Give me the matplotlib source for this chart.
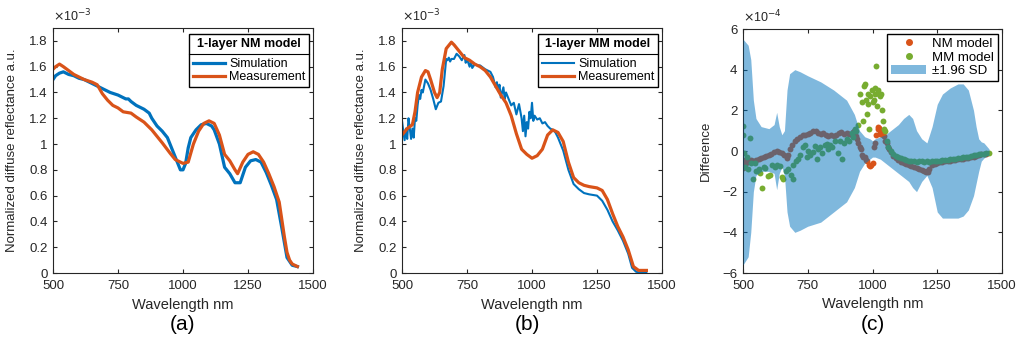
import matplotlib
matplotlib.use("Agg")
import matplotlib.pyplot as plt
from matplotlib.lines import Line2D
from matplotlib.patches import Patch
from matplotlib.ticker import FuncFormatter, FixedLocator
import numpy as np

plt.rcParams["font.family"] = ["Liberation Sans", "DejaVu Sans"]

BLUE = "#0072BD"
ORANGE = "#D95319"
GREEN = "#77AC30"

# ---- panel (a): 1-layer NM model (x1e-3) ----
a_sim_wl = [500, 510, 525, 540, 560, 580, 600, 620, 650, 680, 700, 720, 750, 780, 790,
            800, 820, 850, 870, 880, 900, 920, 940, 960, 980, 990, 1000, 1010, 1020,
            1030, 1050, 1070, 1090, 1110, 1120, 1140, 1160, 1180, 1200, 1220, 1240,
            1260, 1280, 1300, 1320, 1340, 1360, 1380, 1400, 1420, 1440]
a_sim = [1.50, 1.53, 1.55, 1.56, 1.54, 1.53, 1.51, 1.50, 1.47, 1.44, 1.42, 1.40, 1.38,
         1.35, 1.35, 1.33, 1.30, 1.27, 1.24, 1.20, 1.14, 1.10, 1.05, 0.95, 0.85, 0.80,
         0.80, 0.85, 0.97, 1.05, 1.11, 1.15, 1.16, 1.14, 1.11, 1.00, 0.82, 0.77, 0.70,
         0.70, 0.82, 0.87, 0.88, 0.86, 0.78, 0.68, 0.57, 0.35, 0.12, 0.06, 0.05]
a_meas_wl = [500, 510, 525, 540, 560, 580, 600, 620, 650, 670, 690, 710, 730, 750, 770,
             800, 820, 850, 880, 900, 920, 950, 970, 1000, 1020, 1040, 1060, 1080, 1100,
             1120, 1140, 1160, 1180, 1200, 1210, 1230, 1250, 1270, 1290, 1310, 1330,
             1350, 1370, 1390, 1400, 1410, 1420, 1440]
a_meas = [1.58, 1.60, 1.62, 1.60, 1.57, 1.54, 1.52, 1.50, 1.48, 1.46, 1.39, 1.34, 1.30,
          1.28, 1.25, 1.24, 1.21, 1.17, 1.11, 1.06, 1.01, 0.93, 0.88, 0.85, 0.86, 1.00,
          1.10, 1.16, 1.18, 1.16, 1.07, 0.92, 0.87, 0.80, 0.77, 0.86, 0.92, 0.94, 0.92,
          0.86, 0.77, 0.67, 0.55, 0.28, 0.16, 0.10, 0.07, 0.05]

# ---- panel (b): 1-layer MM model (x1e-3) ----
b_sim_wl = [500, 505, 510, 515, 520, 525, 530, 535, 540, 545, 550, 555, 560, 565, 570,
            575, 580, 590, 600, 610, 620, 630, 640, 650, 660, 670, 675, 680, 685, 690,
            700, 710, 720, 730, 740, 745, 750, 760, 765, 770, 780, 790, 800, 820, 840,
            850, 860, 865, 870, 875, 880, 890, 895, 900, 910, 920, 930, 940, 950, 960,
            965, 970, 975, 980, 985, 990, 995, 1000, 1005, 1010, 1020, 1030, 1040, 1050,
            1060, 1070, 1080, 1090, 1100, 1120, 1140, 1160, 1180, 1200, 1220, 1250, 1270,
            1290, 1310, 1330, 1350, 1370, 1385, 1400, 1420, 1440]
b_sim = [1.18, 1.10, 1.03, 1.12, 1.04, 1.20, 1.12, 1.04, 1.12, 1.05, 1.20, 1.18, 1.30,
         1.38, 1.35, 1.42, 1.40, 1.50, 1.47, 1.42, 1.35, 1.27, 1.32, 1.33, 1.45, 1.66,
         1.65, 1.67, 1.64, 1.66, 1.66, 1.70, 1.68, 1.65, 1.69, 1.63, 1.66, 1.60, 1.64,
         1.59, 1.62, 1.61, 1.61, 1.58, 1.56, 1.52, 1.44, 1.48, 1.41, 1.46, 1.36, 1.44,
         1.35, 1.40, 1.35, 1.30, 1.32, 1.23, 1.31, 1.20, 1.10, 1.22, 1.06, 1.17, 1.12,
         1.25, 1.20, 1.32, 1.18, 1.22, 1.19, 1.20, 1.16, 1.17, 1.14, 1.12, 1.11, 1.09,
         1.05, 0.95, 0.80, 0.69, 0.65, 0.62, 0.61, 0.60, 0.56, 0.49, 0.40, 0.33, 0.25,
         0.15, 0.04, 0.01, 0.00, 0.00]
b_meas_wl = [500, 520, 540, 550, 560, 575, 590, 600, 610, 625, 635, 645, 655, 670, 690,
             700, 720, 740, 760, 780, 800, 820, 840, 860, 880, 900, 920, 940, 960, 980,
             1000, 1020, 1040, 1060, 1080, 1100, 1120, 1140, 1160, 1180, 1200, 1220,
             1250, 1270, 1290, 1310, 1330, 1350, 1370, 1390, 1410, 1440]
b_meas = [1.07, 1.12, 1.15, 1.25, 1.40, 1.52, 1.57, 1.56, 1.50, 1.40, 1.36, 1.40, 1.58,
          1.74, 1.79, 1.77, 1.72, 1.67, 1.65, 1.62, 1.60, 1.57, 1.52, 1.45, 1.38, 1.32,
          1.22, 1.08, 0.96, 0.92, 0.89, 0.91, 0.96, 1.07, 1.11, 1.09, 1.02, 0.86, 0.74,
          0.70, 0.68, 0.67, 0.66, 0.64, 0.57, 0.46, 0.36, 0.28, 0.18, 0.05, 0.02, 0.02]

# ---- panel (c): differences (x1e-4) ----
sd_wl = [500, 520, 530, 540, 550, 570, 600, 620, 630, 640, 650, 660, 670, 680, 700, 720,
         750, 800, 850, 900, 930, 950, 970, 990, 1000, 1010, 1030, 1050, 1080, 1100, 1120,
         1140, 1155, 1170, 1190, 1210, 1230, 1250, 1270, 1300, 1330, 1350, 1370, 1390,
         1400, 1410, 1420, 1430, 1450]
sd_hi = [5.5, 5.2, 4.5, 2.5, 1.6, 1.2, 1.1, 1.3, 1.9, 1.2, 0.8, 1.0, 3.0, 3.8, 4.0, 3.9,
         3.7, 3.4, 3.0, 2.5, 1.8, 1.0, 0.7, 0.6, 0.5, 0.6, 0.7, 0.8, 1.1, 1.3, 1.6, 1.8,
         1.6, 1.0, 0.6, 0.4, 1.2, 2.3, 2.8, 3.1, 3.3, 3.3, 3.0, 2.0, 1.2, 0.6, 0.45, 0.4,
         0.1]
sd_lo = [-5.6, -5.2, -4.0, -2.0, -1.2, -1.0, -1.0, -1.1, -1.9, -1.1, -0.8, -1.2, -3.0,
         -3.7, -4.0, -3.9, -3.7, -3.5, -3.0, -2.5, -1.8, -1.0, -0.6, -0.4, -0.3, -0.3,
         -0.4, -0.6, -0.9, -1.1, -1.3, -1.5, -1.8, -2.0, -1.5, -1.2, -1.8, -3.0, -3.3,
         -3.3, -3.3, -3.2, -2.9, -2.2, -1.6, -1.0, -0.5, -0.35, -0.2]

nm_wl = [500, 501, 505, 510, 515, 520, 525, 530, 540, 550, 560, 570, 580, 590, 600, 610,
         620, 630, 640, 650, 660, 670, 675, 680, 690, 700, 710, 720, 730, 740, 750, 760,
         770, 780, 790, 800, 810, 820, 830, 840, 850, 860, 870, 880, 890, 900, 910, 920,
         925, 930, 935, 940, 945, 950, 955, 960, 965, 970, 975, 980, 985, 990, 995, 1000,
         1005, 1010, 1015, 1020, 1022, 1025, 1028, 1030, 1035, 1040, 1045, 1050, 1055,
         1060, 1065, 1070, 1080, 1090, 1100, 1110, 1120, 1130, 1140, 1150, 1160, 1170,
         1180, 1190, 1200, 1205, 1210, 1215, 1220, 1230, 1240, 1250, 1260, 1270, 1280,
         1290, 1300, 1310, 1320, 1330, 1340, 1350, 1360, 1370, 1380, 1390, 1400, 1410,
         1420, 1430, 1440]
nm_d = [-0.85, -0.45, -0.7, -0.6, -0.55, -0.5, -0.5, -0.45, -0.5, -0.45, -0.4, -0.35,
        -0.3, -0.25, -0.2, -0.15, -0.05, 0.0, -0.05, -0.1, -0.2, -0.35, -0.2, 0.1, 0.3,
        0.5, 0.6, 0.7, 0.8, 0.8, 0.85, 0.9, 1.0, 1.0, 0.9, 0.85, 0.9, 0.8, 0.75, 0.8,
        0.75, 0.8, 0.9, 0.95, 0.85, 0.9, 0.85, 0.8, 0.95, 1.0, 0.75, 0.6, 0.4, 0.2, 0.1,
        -0.2, -0.3, -0.3, -0.45, -0.5, -0.7, -0.75, -0.7, -0.6, 0.2, 0.4, 0.8, 1.1, 1.2,
        1.15, 1.0, 0.85, 0.9, 0.8, 0.75, 0.5, 0.4, 0.2, 0.1, -0.05, -0.25, -0.35, -0.45,
        -0.55, -0.6, -0.65, -0.7, -0.75, -0.8, -0.85, -0.9, -0.95, -1.0, -1.05, -1.0,
        -1.05, -0.9, -0.7, -0.65, -0.6, -0.55, -0.55, -0.5, -0.5, -0.5, -0.45, -0.45,
        -0.4, -0.4, -0.4, -0.35, -0.35, -0.3, -0.3, -0.25, -0.2, -0.15, -0.15, -0.15]

mm_wl = [500, 500, 505, 508, 515, 520, 527, 532, 539, 546, 552, 560, 566, 572, 580, 585,
         595, 604, 612, 624, 633, 643, 650, 656, 665, 675, 685, 694, 694, 705, 714, 720,
         730, 740, 746, 752, 760, 771, 778, 784, 790, 797, 805, 815, 823, 830, 836, 845,
         855, 865, 875, 881, 890, 900, 910, 919, 925, 931, 938, 944, 952, 958, 962, 967,
         971, 975, 977, 981, 984, 988, 992, 997, 1000, 1004, 1008, 1010, 1015, 1019,
         1022, 1026, 1030, 1034, 1038, 1042, 1046, 1050, 1055, 1060, 1070, 1080, 1090,
         1100, 1110, 1120, 1130, 1140, 1150, 1160, 1170, 1180, 1190, 1200, 1210, 1220,
         1230, 1240, 1250, 1260, 1270, 1280, 1290, 1300, 1310, 1320, 1330, 1340, 1350,
         1360, 1370, 1380, 1390, 1400, 1410, 1420, 1430, 1440, 1450]
mm_d = [1.25, 0.8, -0.1, -0.8, -0.3, -0.9, 0.65, -0.6, -1.4, -0.6, -1.0, -0.9, -1.1,
        -1.8, -0.8, -0.85, -1.25, -1.2, -0.7, -0.8, -0.7, -0.75, -1.3, -1.4, -1.0,
        -0.9, -1.2, -1.4, -0.7, -0.5, -0.4, -0.2, 0.2, 0.3, -0.3, 0.0, -0.2, -0.05,
        0.25, -0.4, 0.1, 0.2, -0.1, 0.3, 0.35, 0.1, 0.3, 0.2, 0.5, -0.1, 0.5, -0.4, 0.4,
        0.6, 0.5, 0.9, 0.7, 1.1, 1.0, 1.3, 2.8, 2.4, 1.5, 3.2, 3.3, 2.5, 1.8, 2.3, 2.8,
        1.1, 2.7, 3.0, 2.4, 2.5, 2.8, 3.1, 4.2, 2.2, 3.0, 2.8, 2.7, 2.8, 2.0, 1.5, 1.1,
        1.0, 0.5, 0.2, 0.0, -0.15, -0.25, -0.3, -0.35, -0.4, -0.45, -0.5, -0.5, -0.5,
        -0.55, -0.5, -0.5, -0.55, -0.5, -0.55, -0.5, -0.5, -0.5, -0.5, -0.45, -0.45,
        -0.45, -0.4, -0.4, -0.4, -0.35, -0.35, -0.3, -0.3, -0.3, -0.25, -0.2, -0.2,
        -0.15, -0.15, -0.15, -0.1, -0.1]

xticks = [500, 750, 1000, 1250, 1500]
TXT = "#262626"


def style_axes(ax):
    ax.set_xlim(500, 1500)
    ax.xaxis.set_major_locator(FixedLocator(xticks))
    ax.tick_params(direction="in", length=3, width=0.8, top=True, right=True,
                   labelsize=9.5, colors=TXT)
    ax.tick_params(axis="x", pad=5)
    ax.tick_params(axis="y", pad=4)
    ax.yaxis.set_major_formatter(FuncFormatter(lambda v, p: f"{v:g}".replace("-", "\u2212")))
    for s in ax.spines.values():
        s.set_linewidth(0.8)
        s.set_color(TXT)
    ax.set_xlabel("Wavelength nm", fontsize=10.5, color=TXT)
    ax.xaxis.set_label_coords(0.5, -0.1)


fig = plt.figure(figsize=(10.19, 3.42), dpi=100)
ax_a = fig.add_axes([53 / 1019, 69 / 342, 260 / 1019, 245 / 342])
ax_b = fig.add_axes([402 / 1019, 69 / 342, 260 / 1019, 245 / 342])
ax_c = fig.add_axes([743 / 1019, 69 / 342, 259 / 1019, 244 / 342])

legs = []
for ax, sw, sv, mw, mv, title, slw in [
        (ax_a, a_sim_wl, a_sim, a_meas_wl, a_meas, "1-layer NM model", 2.3),
        (ax_b, b_sim_wl, b_sim, b_meas_wl, b_meas, "1-layer MM model", 1.5)]:
    ax.plot(sw, sv, color=BLUE, lw=slw, label="Simulation")
    ax.plot(mw, mv, color=ORANGE, lw=2.3, label="Measurement")
    style_axes(ax)
    ax.set_ylim(0, 1.9)
    ax.set_yticks(np.arange(0, 1.81, 0.2))
    ax.set_ylabel("Normalized diffuse reflectance a.u.", fontsize=9.5, color=TXT)
    ax.yaxis.set_label_coords(-0.135, 0.5)
    ax.text(0.0, 1.015, r"$\times$10$^{-3}$", transform=ax.transAxes, fontsize=9,
            color=TXT, va="bottom", ha="left")
    leg = ax.legend(loc="upper right", bbox_to_anchor=(0.985, 0.975), fontsize=9,
                    title=title, title_fontproperties={"weight": "bold", "size": 9},
                    fancybox=False, edgecolor="black", framealpha=1, borderpad=0.3,
                    handlelength=2.6, handletextpad=0.3, labelspacing=0.1,
                    borderaxespad=0)
    leg.get_frame().set_linewidth(1.0)
    leg._legend_box.sep = 6
    legs.append(leg)

# panel (c): points first, the SD band is laid semi-transparently on top
ax_c.scatter(nm_wl, nm_d, s=18, color=ORANGE, linewidths=0, zorder=2)
ax_c.scatter(mm_wl, mm_d, s=18, color=GREEN, linewidths=0, zorder=2)
ax_c.fill_between(sd_wl, sd_lo, sd_hi, color=BLUE, alpha=0.5, linewidth=0, zorder=3)
style_axes(ax_c)
ax_c.set_ylim(-6, 6)
ax_c.set_yticks([-6, -4, -2, 0, 2, 4, 6])
ax_c.set_ylabel("Difference", fontsize=9.5, color=TXT)
ax_c.yaxis.set_label_coords(-0.12, 0.5)
ax_c.text(0.0, 1.015, r"$\times$10$^{-4}$", transform=ax_c.transAxes, fontsize=9,
          color=TXT, va="bottom", ha="left")
handles = [Line2D([], [], ls="none", marker="o", ms=4, color=ORANGE),
           Line2D([], [], ls="none", marker="o", ms=4, color=GREEN),
           Patch(facecolor=BLUE, alpha=0.5, edgecolor="none")]
leg_c = ax_c.legend(handles, ["NM model", "MM model", "\u00b11.96 SD"],
                    loc="upper right", bbox_to_anchor=(0.985, 0.98), fontsize=9.5,
                    fancybox=False, edgecolor="black", framealpha=1, borderpad=0.3,
                    handlelength=2.6, handletextpad=0.5, labelspacing=0.1,
                    borderaxespad=0)
leg_c.get_frame().set_linewidth(1.0)

# panel letters
for xc, lab in [(0.179, "(a)"), (0.518, "(b)"), (0.857, "(c)")]:
    fig.text(xc, 0.05, lab, fontsize=15, ha="center", va="center", color="black")

# separator line between legend title and entries
fig.canvas.draw()
inv = fig.transFigure.inverted()
for leg in legs:
    fb = leg.get_frame().get_window_extent()
    tb = leg.get_title().get_window_extent()
    first = leg.get_texts()[0].get_window_extent()
    yline = 0.5 * (tb.y0 + first.y1)
    (x0, y0), (x1, _) = inv.transform([(fb.x0, yline), (fb.x1, yline)])
    fig.add_artist(Line2D([x0, x1], [y0, y0], color="black", lw=0.8,
                          transform=fig.transFigure))

fig.savefig("out.png", dpi=100)
